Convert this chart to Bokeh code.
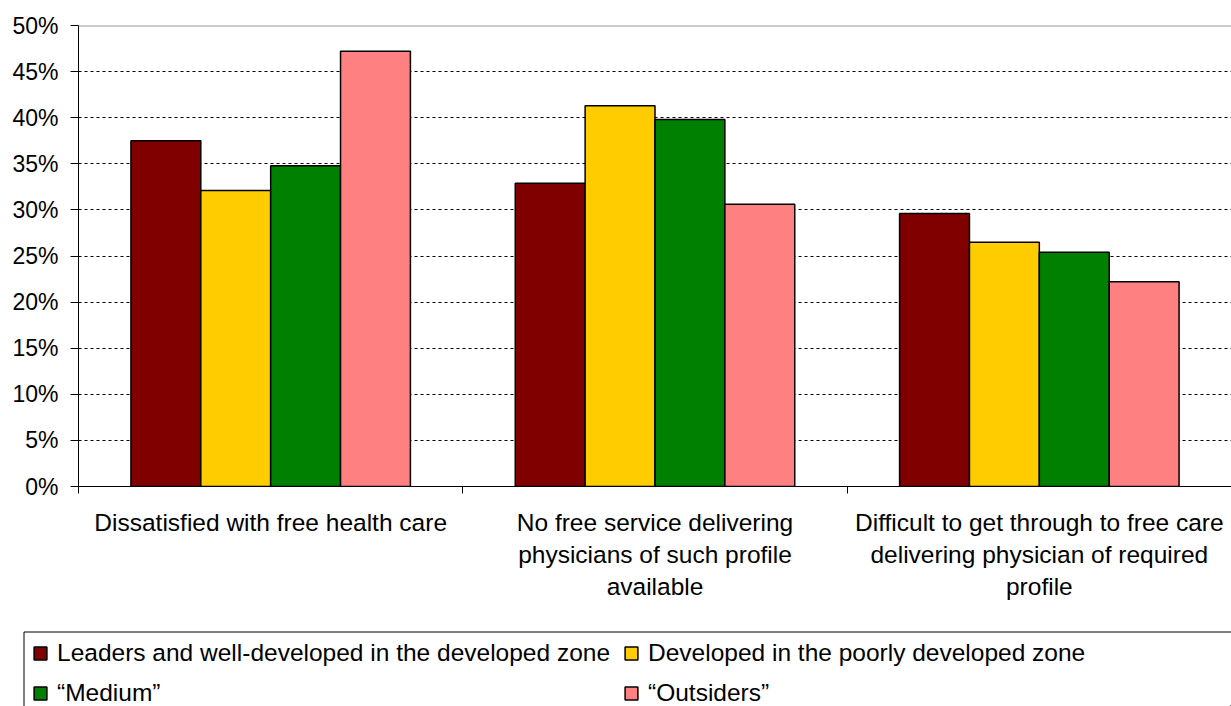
from bokeh.plotting import figure
from bokeh.layouts import column
from bokeh.models import (Range1d, FixedTicker, PrintfTickFormatter, Span,
                          BoxAnnotation, Legend, LegendItem)
from bokeh.embed import file_html
from bokeh.resources import INLINE

# Survey shares (%) by zone group
categories = [
    "Dissatisfied with free health care",
    "No free service delivering\nphysicians of such profile\navailable",
    "Difficult to get through to free care\ndelivering physician of required\nprofile",
]
series_names = [
    "Leaders and well-developed in the developed zone",
    "Developed in the poorly developed zone",
    "\u201cMedium\u201d",
    "\u201cOutsiders\u201d",
]
leaders = [37.5, 32.9, 29.6]
developed = [32.1, 41.3, 26.5]
medium = [34.8, 39.8, 25.4]
outsiders = [47.2, 30.6, 22.2]
y_ticks = [0, 5, 10, 15, 20, 25, 30, 35, 40, 45, 50]

colors = ["#800000", "#FFCC00", "#008000", "#FF8080"]
FONT = "Liberation Sans"

p = figure(width=1231, height=628, output_backend="svg", toolbar_location=None,
           x_range=Range1d(0, 3), y_range=Range1d(0, 50),
           min_border_left=78, min_border_right=0, min_border_top=25,
           min_border_bottom=142)
p.frame_align = False
p.outline_line_color = None
p.background_fill_color = "white"
p.border_fill_color = "white"

# grid: dashed horizontal lines, solid grey line at the top
p.xgrid.visible = False
p.ygrid.ticker = FixedTicker(ticks=y_ticks[1:-1])
p.ygrid.grid_line_color = "black"
p.ygrid.grid_line_dash = "3 3"
p.ygrid.grid_line_width = 1
p.add_layout(Span(location=50, dimension="width", line_color="#999999",
                  line_width=2))

# y axis
p.yaxis.ticker = FixedTicker(ticks=y_ticks)
p.yaxis.formatter = PrintfTickFormatter(format="%d%%")
p.yaxis.axis_line_color = "black"
p.yaxis.major_tick_out = 8
p.yaxis.major_tick_in = 0
p.yaxis.minor_tick_line_color = None
p.yaxis.major_label_standoff = 12
p.yaxis.major_label_text_font = FONT
p.yaxis.major_label_text_font_size = "23px"
p.yaxis.major_label_text_color = "black"

# x axis: labels at group centres, tick marks at group boundaries
centers = [i + 0.5 for i in range(len(categories))]
p.xaxis.ticker = FixedTicker(ticks=centers,
                             minor_ticks=list(range(len(categories) + 1)))
p.xaxis.major_label_overrides = {c: lab for c, lab in zip(centers, categories)}
p.xaxis.axis_line_color = "black"
p.xaxis.major_tick_out = 0
p.xaxis.major_tick_in = 0
p.xaxis.minor_tick_out = 7
p.xaxis.minor_tick_in = 0
p.xaxis.minor_tick_line_color = "black"
p.xaxis.major_label_standoff = 15
p.xaxis.major_label_text_font = FONT
p.xaxis.major_label_text_font_size = "24.5px"
p.xaxis.major_label_text_color = "black"
p.xaxis.major_label_text_line_height = 1.19

# bars
bar_w = 0.1818
offsets = [-1.5 * bar_w, -0.5 * bar_w, 0.5 * bar_w, 1.5 * bar_w]
series = [leaders, developed, medium, outsiders]
for vals, col, off in zip(series, colors, offsets):
    p.vbar(x=[c + off for c in centers], top=vals, width=bar_w,
           fill_color=col, line_color="black", line_width=1.5)

# legend strip under the chart (pixel-scaled ranges)
lg = figure(width=1231, height=78, output_backend="svg", toolbar_location=None,
            x_axis_type=None, y_axis_type=None, min_border=0,
            x_range=Range1d(0, 1231), y_range=Range1d(0, 78))
lg.frame_align = False
lg.outline_line_color = None
lg.background_fill_color = "white"
lg.border_fill_color = "white"

# legend box, running off the page to the right and bottom
lg.add_layout(BoxAnnotation(left=23.5, right=1300, bottom=-20, top=74.5,
                            fill_alpha=0, line_color="black", line_width=1,
                            line_alpha=1))

items = []
for name, col in zip(series_names, colors):
    # swatch renderer placed outside the visible range; only its legend glyph shows
    r = lg.vbar(x=[5000], top=[1], width=1, fill_color=col, line_color="black",
                line_width=1.5)
    items.append(LegendItem(label=name, renderers=[r]))

legend = Legend(items=items, orientation="horizontal", ncols=2,
                location=(32, -5), margin=0, padding=0, spacing=3,
                glyph_width=16, glyph_height=16, label_standoff=9,
                label_height=37, label_width=563,
                label_text_font=FONT, label_text_font_size="24.5px",
                label_text_color="black",
                border_line_color=None, background_fill_alpha=0)
lg.add_layout(legend, "center")

page = column(p, lg, spacing=0)
open("out.html", "w").write(file_html(page, INLINE))
